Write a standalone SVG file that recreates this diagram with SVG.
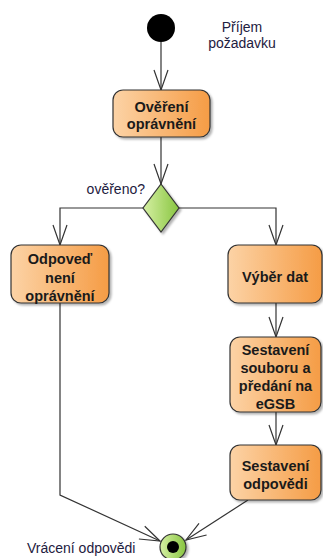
<svg xmlns="http://www.w3.org/2000/svg" width="323" height="558" viewBox="0 0 323 558">
  <defs>
    <linearGradient id="actFill" x1="0" y1="0" x2="1" y2="0">
      <stop offset="0" stop-color="#fcd3a6"/>
      <stop offset="1" stop-color="#f59c45"/>
    </linearGradient>
    <linearGradient id="greenFill" x1="0" y1="0" x2="1" y2="0">
      <stop offset="0" stop-color="#d6f0a4"/>
      <stop offset="1" stop-color="#88c540"/>
    </linearGradient>
    <filter id="shadow" x="-10%" y="-10%" width="130%" height="130%">
      <feDropShadow dx="2" dy="2" stdDeviation="1" flood-color="#000" flood-opacity="0.3"/>
    </filter>
    <marker id="openArrow" markerUnits="userSpaceOnUse" markerWidth="24" markerHeight="18" refX="0" refY="0" viewBox="-21 -9 23 18" orient="auto">
      <path d="M -20 -7 L 0 0 L -20 7" fill="none" stroke="#333" stroke-width="1.2"/>
    </marker>
  </defs>
  <style>
    .act { fill: url(#actFill); stroke: #333; stroke-width: 1.2; filter: url(#shadow); }
    .actText { font-family: "Liberation Sans", Arial, sans-serif; font-weight: bold; font-size: 14.5px; fill: #1a1a1a; text-anchor: middle; }
    .label { font-family: "Liberation Sans", Arial, sans-serif; font-size: 14px; fill: #1e2040; }
    .edge { fill: none; stroke: #333; stroke-width: 1.2; marker-end: url(#openArrow); }
  </style>

  <g id="connectors">
    <path class="edge" d="M161 42 L161 90"/>
    <path class="edge" d="M161 137 L161 184"/>
    <path class="edge" d="M143 208 L60 208 L60 245"/>
    <path class="edge" d="M179 208 L276 208 L276 245"/>
    <path class="edge" d="M276 303 L276 337"/>
    <path class="edge" d="M276 412 L276 445"/>
    <path class="edge" d="M60 303 L60 495 L160 541"/>
    <path class="edge" d="M248 500 L186 540"/>
  </g>

  <g id="start">
    <circle cx="161" cy="28" r="14" fill="#000"/>
    <text class="label" x="242" y="32" text-anchor="middle">Příjem</text>
    <text class="label" x="242" y="48" text-anchor="middle">požadavku</text>
  </g>

  <g id="overeni">
    <rect class="act" x="113" y="90" width="97" height="47" rx="10"/>
    <text class="actText" x="161.5" y="112">Ověření</text>
    <text class="actText" x="161.5" y="129">oprávnění</text>
  </g>

  <g id="decision">
    <path d="M161 184 L179 208 L161 232 L143 208 Z" fill="url(#greenFill)" stroke="#333" stroke-width="1.2" filter="url(#shadow)"/>
    <text class="label" x="145" y="194" text-anchor="end">ověřeno?</text>
  </g>

  <g id="odpoved-neni">
    <rect class="act" x="11" y="245" width="98" height="58" rx="10"/>
    <text class="actText" x="60" y="264">Odpoveď</text>
    <text class="actText" x="60" y="283">není</text>
    <text class="actText" x="60" y="301">oprávnění</text>
  </g>

  <g id="vyber-dat">
    <rect class="act" x="228" y="245" width="94" height="58" rx="10"/>
    <text class="actText" x="275" y="282">Výběr dat</text>
  </g>

  <g id="sestaveni-souboru">
    <rect class="act" x="230" y="337" width="91" height="75" rx="10"/>
    <text class="actText" x="275.5" y="355">Sestavení</text>
    <text class="actText" x="275.5" y="373">souboru a</text>
    <text class="actText" x="275.5" y="391">předání na</text>
    <text class="actText" x="275.5" y="409">eGSB</text>
  </g>

  <g id="sestaveni-odpovedi">
    <rect class="act" x="230" y="445" width="91" height="55" rx="10"/>
    <text class="actText" x="275.5" y="471">Sestavení</text>
    <text class="actText" x="275.5" y="489">odpovědi</text>
  </g>

  <g id="end">
    <circle cx="173" cy="547" r="13" fill="url(#greenFill)" stroke="#333" stroke-width="1.2" filter="url(#shadow)"/>
    <circle cx="173" cy="547" r="6" fill="#000"/>
    <text class="label" x="27" y="553">Vrácení odpovědi</text>
  </g>
</svg>
